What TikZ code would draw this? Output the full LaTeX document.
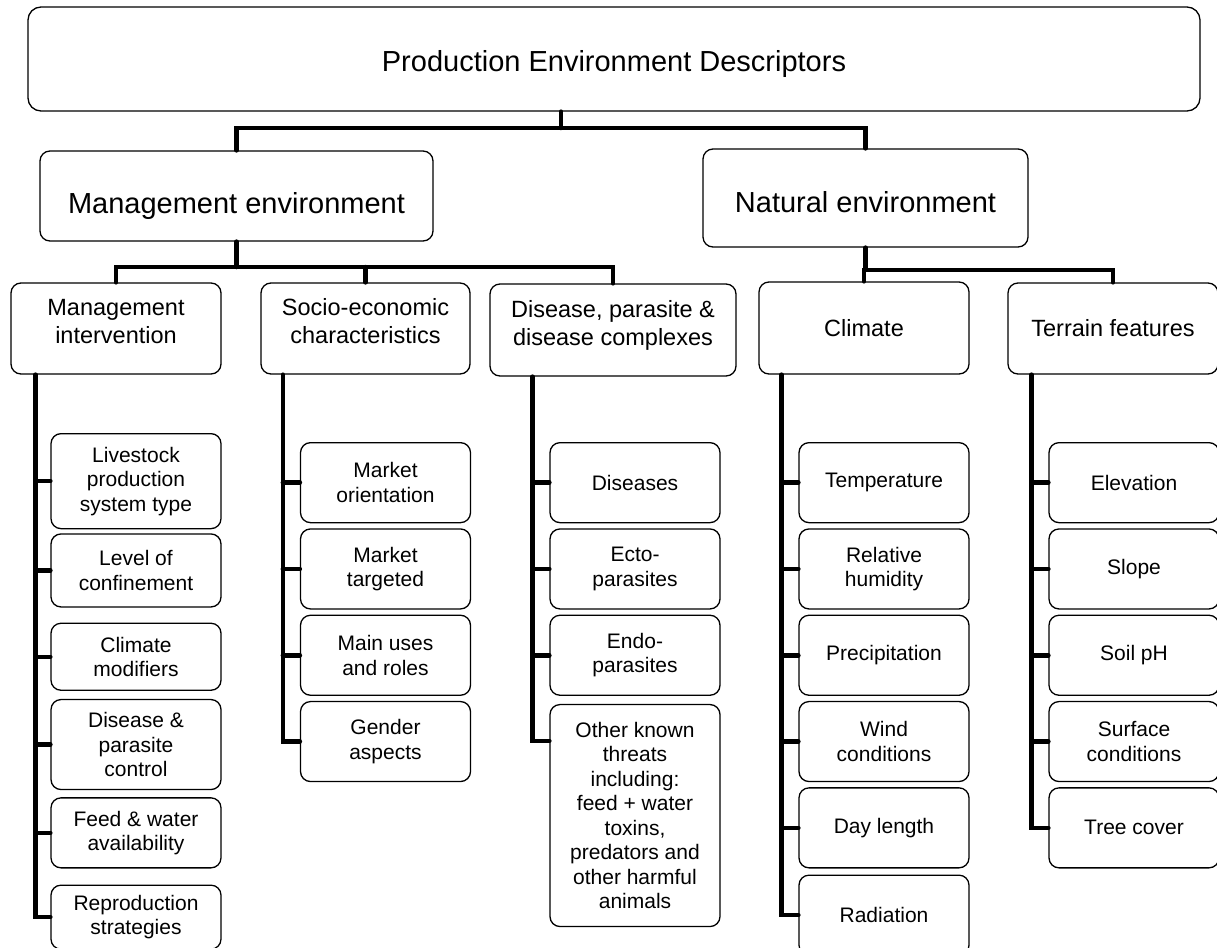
\documentclass[tikz,border=0pt]{standalone}
\usepackage{fontspec}
\setmainfont{Liberation Sans}
\usetikzlibrary{positioning}

\begin{document}
\begin{tikzpicture}[
  x=1pt,y=-1pt,
  node distance=5pt,
  every node/.style={inner sep=0pt,align=center},
  box/.style={draw,line width=1.3pt,rounded corners=10pt},
  top box/.style={box,rounded corners=13pt,font=\fontsize{29}{34}\selectfont},
  env box/.style={box,font=\fontsize{29}{34}\selectfont,text depth=6pt},
  group box/.style={box,minimum height=91pt,font=\fontsize{23.5}{28}\selectfont},
  two line/.style={text height=35pt,text depth=5pt},
  leaf/.style={box,minimum width=170pt,minimum height=80pt,font=\fontsize{21}{24.5}\selectfont},
  link/.style={line width=4.5pt,line cap=round}
  ]
  \useasboundingbox (0,0) rectangle (1217,947);
  \clip (0,0) rectangle (1217,947);
  % top and the two environments
  \node [top box,minimum width=1172pt,minimum height=104pt,text height=31pt,text depth=6pt] (pe) at (614,59) {Production Environment Descriptors};
  \node [env box,minimum width=393pt,minimum height=90pt,text height=41pt] (me) at (236.5,196) {Management environment};
  \node [env box,minimum width=325pt,minimum height=98pt,text height=35pt] (ne) at (865.5,198) {Natural environment};
  % groups
  \node [group box,two line,minimum width=210pt] (mi) at (116,328.5) {Management\\intervention};
  \node [group box,two line,minimum width=209pt] (se) at (365.5,328.5) {Socio-economic\\characteristics};
  \node [group box,two line,minimum width=246pt,minimum height=92pt] (dp) at (613,330) {Disease, parasite \&\\disease complexes};
  \node [group box,minimum width=210pt,minimum height=92pt] (cl) at (864,328) {Climate};
  \node [group box,minimum width=210pt] (tf) at (1113,328.5) {Terrain features};
  % management intervention
  \node [leaf,anchor=north,minimum height=95pt] (mi1) at (136,433) {Livestock\\production\\system type};
  \node [leaf,minimum height=73pt,below=4pt of mi1] (mi2) {Level of\\confinement};
  \node [leaf,minimum height=67pt,below=15pt of mi2] (mi3) {Climate\\modifiers};
  \node [leaf,minimum height=90pt,below=8pt of mi3] (mi4) {Disease \&\\parasite\\control};
  \node [leaf,minimum height=70pt,below=7pt of mi4] (mi5) {Feed \& water\\availability};
  \node [leaf,minimum height=64pt,below=16pt of mi5] (mi6) {Reproduction\\strategies};
  % socio-economic
  \node [leaf,anchor=north] (se1) at (385.5,442) {Market\\orientation};
  \node [leaf,below=of se1] (se2) {Market\\targeted};
  \node [leaf,below=of se2] (se3) {Main uses\\and roles};
  \node [leaf,below=of se3] (se4) {Gender\\aspects};
  % disease
  \node [leaf,anchor=north] (dp1) at (635,442) {Diseases};
  \node [leaf,below=of dp1] (dp2) {Ecto-\\parasites};
  \node [leaf,below=of dp2] (dp3) {Endo-\\parasites};
  \node [leaf,minimum height=222pt,below=8pt of dp3] (dp4) {Other known\\threats\\including:\\feed + water\\toxins,\\predators and\\other harmful\\animals};
  % climate
  \node [leaf,anchor=north] (cl1) at (884,442) {Temperature};
  \node [leaf,below=of cl1] (cl2) {Relative\\humidity};
  \node [leaf,below=of cl2] (cl3) {Precipitation};
  \node [leaf,below=of cl3] (cl4) {Wind\\conditions};
  \node [leaf,below=of cl4] (cl5) {Day length};
  \node [leaf,below=6pt of cl5] (cl6) {Radiation};
  % terrain
  \node [leaf,anchor=north] (tf1) at (1134,442) {Elevation};
  \node [leaf,below=of tf1] (tf2) {Slope};
  \node [leaf,below=of tf2] (tf3) {Soil pH};
  \node [leaf,below=of tf3] (tf4) {Surface\\conditions};
  \node [leaf,below=of tf4] (tf5) {Tree cover};

  % tree links
  \coordinate (hub) at (561,128);
  \coordinate (mebus) at (238,267);
  \coordinate (nebus) at (865,270);
  \draw [link] (pe.south -| hub) -- (hub);
  \draw [link] (me.north) |- (hub) -| (ne.north);
  \draw [link] (me.south) -- (me.south |- mebus);
  \draw [link] (mi.north) |- (mebus) -| (dp.north);
  \draw [link] (se.north) -- (se.north |- mebus);
  \draw [link] (ne.south) -- (ne.south |- nebus);
  \draw [link] (cl.north) |- (nebus) -| (tf.north);

  % rails
  \coordinate (mirail) at ([xshift=-15pt]mi1.west);
  \coordinate (serail) at ([xshift=-17pt]se1.west);
  \coordinate (dprail) at ([xshift=-17pt]dp1.west);
  \coordinate (clrail) at ([xshift=-17pt]cl1.west);
  \coordinate (tfrail) at ([xshift=-17pt]tf1.west);
  \coordinate (dptick) at ([yshift=-37pt]dp4.north west);
  \draw [link] (mirail |- mi.south) |- (mi6.west);
  \draw [link] (serail |- se.south) |- (se4.west);
  \draw [link] (dprail |- dp.south) |- (dptick);
  \draw [link] (clrail |- cl.south) |- (cl6.west);
  \draw [link] (tfrail |- tf.south) |- (tf5.west);
  \foreach \k in {1,...,5} \draw [link] (mirail |- mi\k.west) -- (mi\k.west);
  \foreach \k in {1,2,3} \draw [link] (serail |- se\k.west) -- (se\k.west);
  \foreach \k in {1,2,3} \draw [link] (dprail |- dp\k.west) -- (dp\k.west);
  \foreach \k in {1,...,5} \draw [link] (clrail |- cl\k.west) -- (cl\k.west);
  \foreach \k in {1,...,4} \draw [link] (tfrail |- tf\k.west) -- (tf\k.west);
\end{tikzpicture}
\end{document}
